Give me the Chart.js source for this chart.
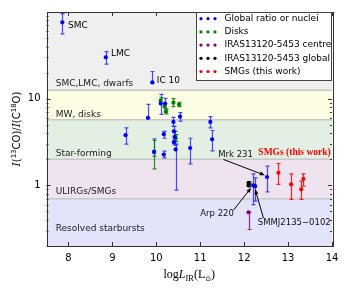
<!DOCTYPE html>
<html><head><meta charset="utf-8">
<script src="https://cdn.jsdelivr.net/npm/chart.js@4/dist/chart.umd.min.js"></script>
<style>html,body{margin:0;padding:0;background:#fff;}#wrap{width:349px;height:292px;}</style>
</head><body><div id="wrap"><canvas id="c" width="349" height="292"></canvas></div>
<script>
// ---------- data ----------
const globalX  = [7.86, 8.85, 9.91, 9.81, 10.10, 10.20, 10.39, 10.40, 10.42, 10.40, 10.44, 10.54, 10.17, 10.17, 9.95, 10.77, 11.23, 11.27, 9.30, 12.52, 12.21, 12.25];
const globalY  = [76, 30, 15.4, 6.0, 8.8, 8.8, 5.4, 4.2, 3.6, 3.15, 2.6, 6.2, 3.9, 2.27, 2.43, 2.7, 5.4, 3.4, 3.8, 1.25, 1.0, 0.98];
const globalLo = [56, 25, 15.0, 6.0, 6.6, 7.0, 4.8, 3.7, 2.9, 3.0, 0.88, 5.5, 3.5, 2.08, 2.17, 1.77, 4.6, 2.5, 3.0, 0.84, 0.6, 0.66];
const globalHi = [96, 35, 20.6, 8.6, 11.2, 10.1, 6.1, 4.8, 4.2, 3.35, 3.0, 6.9, 4.2, 2.48, 3.45, 3.5, 6.2, 4.3, 4.6, 1.67, 1.36, 1.22];

const diskX  = [10.10, 10.19, 10.22, 10.39, 10.52, 9.95, 10.44];
const diskY  = [9.5, 8.2, 7.1, 9.0, 8.6, 2.43, 3.5];
const diskLo = [8.8, 7.7, 6.7, 8.1, 8.1, 1.55, 3.2];
const diskHi = [10.3, 8.7, 7.6, 10.0, 9.1, 3.3, 3.85];

const centreX = [12.10], centreY = [0.49], centreLo = [0.31], centreHi = [0.49];
const irasX = [12.10, 12.10], irasY = [1.07, 1.0], irasLo = [1.04, 0.97], irasHi = [1.10, 1.03];

const smgX  = [12.78, 13.07, 13.30, 13.35];
const smgY  = [1.40, 1.03, 0.90, 1.19];
const smgLo = [1.03, 0.69, 0.69, 0.98];
const smgHi = [1.79, 1.36, 1.12, 1.36];

const seriesNames = ['Global ratio or nuclei','Disks','IRAS13120-5453 centre','IRAS13120-5453 global','SMGs (this work)'];

const xTicks = [8, 9, 10, 11, 12, 13, 14];
const yTicks = [1, 10];

const bandEdges  = [100, 12.5, 5.7, 2.0, 0.7, 0.2];
const bandLabels = ['SMC,LMC, dwarfs','MW, disks','Star-forming','ULIRGs/SMGs','Resolved starbursts'];
const bandLabelX = 7.71;
const bandLabelY = [15.1, 6.5, 2.33, 0.84, 0.32];

const pointLabels = ['SMC','LMC','IC 10'];
const pointLabelX = [7.99, 8.97, 10.01];
const pointLabelY = [70, 33, 16.2];

const annText  = ['Mrk 231','Arp 220','SMMJ2135\u22120102'];
const annTextX = [11.41, 11.0, 12.31];
const annTextY = [2.23, 0.47, 0.37];
const annFromX = [11.53, 11.76, 12.44];
const annFromY = [1.99, 0.52, 0.42];
const annToX   = [12.47, 12.16, 12.25];
const annToY   = [1.31, 0.94, 0.90];

const smgLabel = 'SMGs (this work)';
const smgLabelX = 13.97, smgLabelY = 2.37;

// ---------- styles ----------
const bandColors = ['#efefef','#fdfde4','#e4efe4','#efe3ef','#e3e3f9'];
const seriesColors = ['#0000ff','#008000','#800080','#000000','#ff0000'];
const barColors = ['rgba(40,40,255,0.85)','rgba(0,128,0,0.85)','rgba(128,0,128,0.85)','rgba(0,0,0,0.9)','rgba(255,0,0,0.85)'];
const SANS = '"DejaVu Sans", sans-serif';

function mk(xs, ys, lo, hi, i){
  return {
    label: seriesNames[i],
    data: xs.map((x, k) => ({x: x, y: ys[k]})),
    errLo: lo, errHi: hi,
    backgroundColor: seriesColors[i], borderColor: seriesColors[i],
    pointRadius: 2.1, pointBorderWidth: 0, barColor: barColors[i]
  };
}

const deco = {
  id: 'deco',
  beforeDatasetsDraw(chart){
    const {ctx, chartArea: a, scales: {x, y}} = chart;
    ctx.save();
    ctx.beginPath(); ctx.rect(a.left, a.top, a.right - a.left, a.bottom - a.top); ctx.clip();
    for (let i = 0; i < bandEdges.length - 1; i++){
      const y0 = y.getPixelForValue(bandEdges[i]), y1 = y.getPixelForValue(bandEdges[i+1]);
      ctx.fillStyle = bandColors[i];
      ctx.fillRect(a.left, y0, a.right - a.left, y1 - y0);
    }
    ctx.strokeStyle = '#c8c8c8'; ctx.lineWidth = 1.5;
    for (let i = 1; i < bandEdges.length - 1; i++){
      const yy = y.getPixelForValue(bandEdges[i]);
      ctx.beginPath(); ctx.moveTo(a.left, yy); ctx.lineTo(a.right, yy); ctx.stroke();
    }
    ctx.fillStyle = '#1a1a1a'; ctx.font = '9px ' + SANS; ctx.textBaseline = 'middle'; ctx.textAlign = 'left';
    bandLabels.forEach((t, i) => ctx.fillText(t, x.getPixelForValue(bandLabelX), y.getPixelForValue(bandLabelY[i])));
    // error bars
    chart.data.datasets.forEach(ds => {
      ctx.strokeStyle = ds.barColor; ctx.lineWidth = 1.2;
      ds.data.forEach((p, k) => {
        const px = Math.round(x.getPixelForValue(p.x)) + 0.5;
        const yl = y.getPixelForValue(ds.errLo[k]), yh = y.getPixelForValue(ds.errHi[k]);
        ctx.beginPath();
        ctx.moveTo(px, yl); ctx.lineTo(px, yh);
        ctx.moveTo(px - 2, yl); ctx.lineTo(px + 2, yl);
        ctx.moveTo(px - 2, yh); ctx.lineTo(px + 2, yh);
        ctx.stroke();
      });
    });
    ctx.restore();
  },
  afterDraw(chart){
    const {ctx, chartArea: a, scales: {x, y}} = chart;
    ctx.save();
    // frame
    ctx.strokeStyle = '#333'; ctx.lineWidth = 1;
    ctx.strokeRect(Math.round(a.left) + 0.5, Math.round(a.top) + 0.5, Math.round(a.right - a.left), Math.round(a.bottom - a.top));
    // ticks inward
    ctx.beginPath();
    xTicks.forEach(v => {
      const px = Math.round(x.getPixelForValue(v)) + 0.5;
      ctx.moveTo(px, a.bottom); ctx.lineTo(px, a.bottom - 4);
      ctx.moveTo(px, a.top); ctx.lineTo(px, a.top + 4);
    });
    for (let d = -1; d <= 1; d++){
      for (let m = 1; m <= 9; m++){
        const v = m * Math.pow(10, d);
        if (v < y.min || v > y.max) continue;
        const py = Math.round(y.getPixelForValue(v)) + 0.5;
        const len = (m === 1) ? 4 : 2;
        ctx.moveTo(a.left, py); ctx.lineTo(a.left + len, py);
        ctx.moveTo(a.right, py); ctx.lineTo(a.right - len, py);
      }
    }
    ctx.stroke();
    // point labels
    ctx.fillStyle = '#000'; ctx.font = '9px ' + SANS; ctx.textBaseline = 'middle'; ctx.textAlign = 'left';
    pointLabels.forEach((t, i) => ctx.fillText(t, x.getPixelForValue(pointLabelX[i]), y.getPixelForValue(pointLabelY[i])));
    // annotations
    ctx.font = '8.5px ' + SANS; ctx.fillStyle = '#111';
    annText.forEach((t, i) => {
      ctx.fillStyle = '#111';
      ctx.fillText(t, x.getPixelForValue(annTextX[i]), y.getPixelForValue(annTextY[i]));
      const x0 = x.getPixelForValue(annFromX[i]), y0 = y.getPixelForValue(annFromY[i]);
      const x1 = x.getPixelForValue(annToX[i]), y1 = y.getPixelForValue(annToY[i]);
      const ang = Math.atan2(y1 - y0, x1 - x0);
      ctx.strokeStyle = '#000'; ctx.lineWidth = 1;
      ctx.beginPath(); ctx.moveTo(x0, y0); ctx.lineTo(x1 - 4 * Math.cos(ang), y1 - 4 * Math.sin(ang)); ctx.stroke();
      ctx.beginPath();
      ctx.moveTo(x1, y1);
      ctx.lineTo(x1 - 5 * Math.cos(ang) + 2 * Math.sin(ang), y1 - 5 * Math.sin(ang) - 2 * Math.cos(ang));
      ctx.lineTo(x1 - 5 * Math.cos(ang) - 2 * Math.sin(ang), y1 - 5 * Math.sin(ang) + 2 * Math.cos(ang));
      ctx.closePath(); ctx.fillStyle = '#000'; ctx.fill();
    });
    // SMG label
    ctx.fillStyle = '#ff0000'; ctx.font = 'bold 9.5px "Liberation Serif", serif'; ctx.textAlign = 'right';
    ctx.fillText(smgLabel, x.getPixelForValue(smgLabelX), y.getPixelForValue(smgLabelY));
    // legend
    const lw = 136, lh = 68;
    const lx = a.right - lw, ly = a.top;
    ctx.fillStyle = '#fff'; ctx.fillRect(lx, ly, lw, lh);
    ctx.strokeStyle = '#444'; ctx.lineWidth = 1;
    ctx.strokeRect(Math.round(lx) + 0.5, Math.round(ly) + 0.5, Math.round(lw) - 1, Math.round(lh));
    ctx.textAlign = 'left'; ctx.textBaseline = 'middle'; ctx.font = '9px ' + SANS;
    seriesNames.forEach((n, i) => {
      const ry = ly + 6.7 + i * 13.2;
      ctx.fillStyle = seriesColors[i];
      [5, 12, 19].forEach(dx => { ctx.beginPath(); ctx.arc(lx + dx, ry, 1.6, 0, Math.PI * 2); ctx.fill(); });
      ctx.fillStyle = '#000';
      ctx.fillText(n, lx + 28.5, ry);
    });
    // y title (rich text, rotated)
    const segs = [
      {t: 'I', f: 'italic 10.5px "DejaVu Serif", serif', dy: 0},
      {t: '(', f: '10px ' + SANS, dy: 0},
      {t: '13', f: '7px ' + SANS, dy: -4},
      {t: 'CO)/', f: '10px ' + SANS, dy: 0},
      {t: 'I', f: 'italic 10.5px "DejaVu Serif", serif', dy: 0},
      {t: '(C', f: '10px ' + SANS, dy: 0},
      {t: '18', f: '7px ' + SANS, dy: -4},
      {t: 'O)', f: '10px ' + SANS, dy: 0}
    ];
    drawRich(ctx, segs, 20, (a.top + a.bottom) / 2, -Math.PI / 2);
    // x title
    const xs = [
      {t: 'log', f: '12px "Liberation Serif", serif', dy: 0},
      {t: 'L', f: 'italic 12px "Liberation Serif", serif', dy: 0},
      {t: 'IR', f: '8.5px "Liberation Serif", serif', dy: 2.5},
      {t: '(L', f: '12px "Liberation Serif", serif', dy: 0},
      {t: '\u2299', f: '7px "DejaVu Sans", serif', dy: 2.5},
      {t: ')', f: '12px "Liberation Serif", serif', dy: 0}
    ];
    drawRich(ctx, xs, (a.left + a.right) / 2, 278, 0);
    ctx.restore();
  }
};

function drawRich(ctx, segs, cx, cy, rot){
  ctx.save();
  ctx.translate(cx, cy); ctx.rotate(rot);
  ctx.textAlign = 'left'; ctx.textBaseline = 'alphabetic'; ctx.fillStyle = '#000';
  let w = 0;
  segs.forEach(s => { ctx.font = s.f; s.w = ctx.measureText(s.t).width; w += s.w; });
  let px = -w / 2;
  segs.forEach(s => { ctx.font = s.f; ctx.fillText(s.t, px, s.dy); px += s.w; });
  ctx.restore();
}

new Chart(document.getElementById('c'), {
  type: 'scatter',
  data: {
    datasets: [
      mk(globalX, globalY, globalLo, globalHi, 0),
      mk(diskX, diskY, diskLo, diskHi, 1),
      mk(centreX, centreY, centreLo, centreHi, 2),
      mk(irasX, irasY, irasLo, irasHi, 3),
      mk(smgX, smgY, smgLo, smgHi, 4)
    ]
  },
  options: {
    responsive: false, animation: false, devicePixelRatio: 1,
    layout: {padding: {left: 0, right: 17, top: 10, bottom: 0}},
    plugins: {legend: {display: false}, tooltip: {enabled: false}},
    scales: {
      x: {
        type: 'linear', min: 7.5, max: 14,
        afterBuildTicks: s => { s.ticks = xTicks.map(v => ({value: v})); },
        afterFit: s => { s.height = 46; },
        grid: {display: false, drawTicks: false}, border: {display: false},
        ticks: {color: '#000', font: {family: 'DejaVu Sans', size: 10}, padding: 6, maxRotation: 0}
      },
      y: {
        type: 'logarithmic', min: 0.2, max: 100,
        afterBuildTicks: s => { s.ticks = yTicks.map(v => ({value: v})); },
        afterFit: s => { s.width = 46.5; },
        grid: {display: false, drawTicks: false}, border: {display: false},
        ticks: {color: '#000', font: {family: 'DejaVu Sans', size: 10}, padding: 6, callback: v => String(v)}
      }
    }
  },
  plugins: [deco]
});
</script>
</body></html>
